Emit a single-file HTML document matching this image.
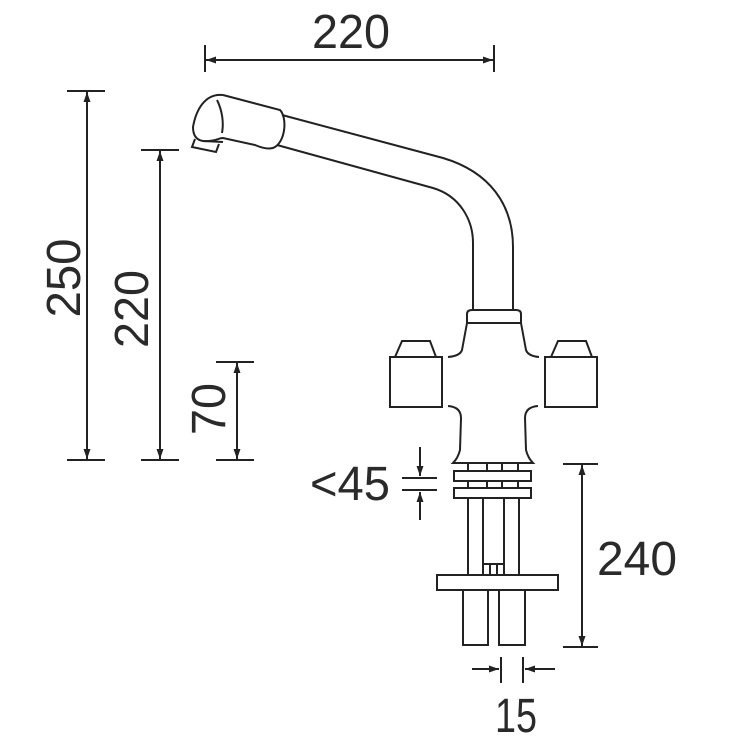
<!DOCTYPE html>
<html><head><meta charset="utf-8"><style>
html,body{margin:0;padding:0;background:#fff}
svg{display:block}
text{font-family:"Liberation Sans",sans-serif;fill:#2a2a2a}
</style></head><body>
<svg width="750" height="750" viewBox="0 0 750 750" xmlns="http://www.w3.org/2000/svg">
<defs>
<marker id="a" viewBox="0 0 10 10" refX="10" refY="5" markerWidth="10" markerHeight="10" markerUnits="userSpaceOnUse" orient="auto-start-reverse">
<path d="M0,1.5 L10,5 L0,8.5 Z" fill="#222"/></marker>
</defs>
<g stroke="#222" stroke-width="2" fill="none">
<!-- top 220 -->
<line x1="205" y1="45" x2="205" y2="72"/><line x1="494" y1="45" x2="494" y2="72"/>
<line x1="206" y1="60" x2="493" y2="60" marker-start="url(#a)" marker-end="url(#a)"/>
<!-- 250 -->
<line x1="67" y1="91" x2="105" y2="91"/><line x1="67" y1="460" x2="105" y2="460"/>
<line x1="87" y1="92" x2="87" y2="459" marker-start="url(#a)" marker-end="url(#a)"/>
<!-- 220 v -->
<line x1="141" y1="150" x2="179" y2="150"/><line x1="141" y1="460" x2="179" y2="460"/>
<line x1="160" y1="151" x2="160" y2="459" marker-start="url(#a)" marker-end="url(#a)"/>
<!-- 70 -->
<line x1="216" y1="362" x2="254" y2="362"/><line x1="216" y1="460" x2="254" y2="460"/>
<line x1="237" y1="363" x2="237" y2="459" marker-start="url(#a)" marker-end="url(#a)"/>
<!-- 240 -->
<line x1="563" y1="464" x2="598" y2="464"/><line x1="563" y1="647" x2="598" y2="647"/>
<line x1="582" y1="465" x2="582" y2="646" marker-start="url(#a)" marker-end="url(#a)"/>
<!-- <45 -->
<line x1="402" y1="478" x2="437" y2="478"/><line x1="402" y1="490" x2="437" y2="490"/>
<line x1="420" y1="447" x2="420" y2="476" marker-end="url(#a)"/>
<line x1="420" y1="520" x2="420" y2="492" marker-end="url(#a)"/>
<!-- 15 -->
<line x1="501" y1="657" x2="501" y2="683"/><line x1="523" y1="657" x2="523" y2="683"/>
<line x1="472" y1="669" x2="499" y2="669" marker-end="url(#a)"/>
<line x1="555" y1="669" x2="525" y2="669" marker-end="url(#a)"/>

<!-- spout head -->
<path d="M223,95 C205,93 196,110 193,127 C193,135 196,140 203,141 L223,142"/>
<path d="M217,100 C222,110 224,122 222,133"/>
<path d="M223,95 L280,110 C287,117 286,140 275,147 C270,150 262,148 255,145 L223,138 C218,138 215,142 203,141"/>
<path d="M195,139 L192,147 L216,152 L219,144"/>
<!-- tube -->
<path d="M282,115 L443,158 C490,172 513,205 513,247 L513,310"/>
<path d="M277,145 L433,188 C460,196 473,220 473,243 L473,310"/>
<!-- collar -->
<path d="M467,323 L467,314 Q467,310 472,310 L516,310 Q521,310 521,314 L521,323 Z"/>
<!-- body -->
<path d="M467,323 L462,350 Q460,356 448,357"/>
<path d="M448,406 Q461,407 461,418 L460,450 Q458,458 453,463 L533,463 Q528,458 526,450 L525,418 Q525,407 538,406"/>
<path d="M521,323 L526,350 Q528,356 539,357"/>
<!-- knobs -->
<rect x="390" y="357" width="52" height="50"/>
<path d="M395,357 L402,341 L430,341 L436,357"/>
<rect x="545" y="357" width="52" height="50"/>
<path d="M551,357 L558,341 L586,341 L592,357"/>
<!-- rings -->
<rect x="454" y="471" width="77" height="10"/>
<rect x="454" y="488" width="77" height="10"/>
<line x1="468" y1="463" x2="468" y2="471"/><line x1="487" y1="463" x2="487" y2="471"/><line x1="502" y1="463" x2="502" y2="471"/><line x1="518" y1="463" x2="518" y2="471"/>
<line x1="468" y1="481" x2="468" y2="488"/><line x1="487" y1="481" x2="487" y2="488"/><line x1="502" y1="481" x2="502" y2="488"/><line x1="518" y1="481" x2="518" y2="488"/>
<!-- pipes -->
<line x1="468" y1="498" x2="468" y2="575"/><line x1="483" y1="498" x2="483" y2="575"/>
<line x1="504" y1="498" x2="504" y2="575"/><line x1="519" y1="498" x2="519" y2="575"/>
<path d="M483,564 L504,564 M490,564 L490,575 M497,564 L497,575"/>
<rect x="437" y="575" width="121" height="15"/>
<rect x="463" y="590" width="25" height="55"/>
<rect x="499" y="590" width="26" height="55"/>
</g>
<text x="351" y="48" font-size="48" text-anchor="middle" textLength="78" lengthAdjust="spacingAndGlyphs">220</text>
<text transform="translate(80,278) rotate(-90)" font-size="48" text-anchor="middle" textLength="79" lengthAdjust="spacingAndGlyphs">250</text>
<text transform="translate(148,309) rotate(-90)" font-size="48" text-anchor="middle" textLength="78" lengthAdjust="spacingAndGlyphs">220</text>
<text transform="translate(225,409) rotate(-90)" font-size="48" text-anchor="middle" textLength="52" lengthAdjust="spacingAndGlyphs">70</text>
<text x="310" y="500" font-size="48" textLength="80" lengthAdjust="spacingAndGlyphs">&lt;45</text>
<text x="597" y="575" font-size="48" textLength="80" lengthAdjust="spacingAndGlyphs">240</text>
<text x="495" y="732" font-size="48" textLength="42" lengthAdjust="spacingAndGlyphs">15</text>
</svg>
</body></html>
